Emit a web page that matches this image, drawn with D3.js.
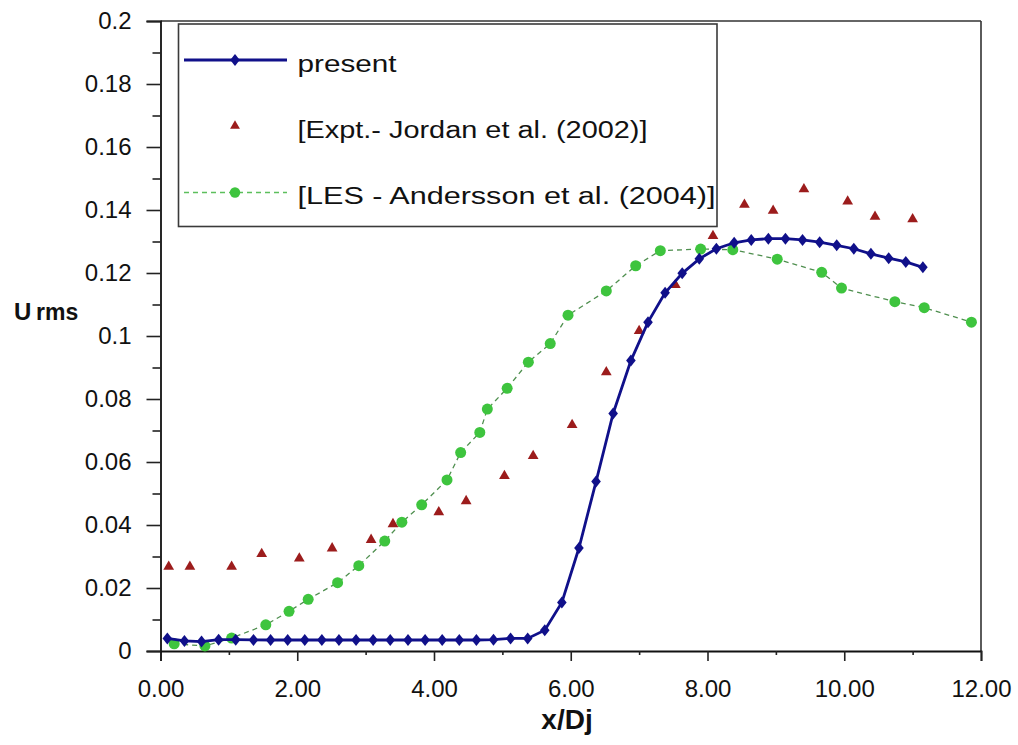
<!DOCTYPE html>
<html>
<head>
<meta charset="utf-8">
<script src="https://cdn.jsdelivr.net/npm/d3@7"></script>
<style>
  html, body { margin: 0; padding: 0; background: #ffffff; }
  svg { display: block; }
  text { font-family: "Liberation Sans", Arial, sans-serif; fill: #111; }
</style>
</head>
<body>
<svg id="chart" width="1018" height="745"></svg>
<script>
// ---------------- data ----------------
const presentX = [0.10, 0.35, 0.60, 0.85, 1.10, 1.36, 1.61, 1.86, 2.11, 2.36, 2.61, 2.86, 3.11, 3.36, 3.62,
  3.87, 4.12, 4.37, 4.62, 4.87, 5.12, 5.37, 5.62, 5.87, 6.12, 6.37, 6.62, 6.88, 7.13, 7.38,
  7.63, 7.88, 8.13, 8.39, 8.64, 8.89, 9.14, 9.39, 9.64, 9.89, 10.14, 10.39, 10.65, 10.90, 11.15];
const presentY = [0.0040, 0.0032, 0.0030, 0.0036, 0.0036, 0.0035, 0.0035, 0.0035, 0.0035, 0.0035, 0.0035, 0.0035,
  0.0035, 0.0035, 0.0035, 0.0035, 0.0035, 0.0035, 0.0035, 0.0036, 0.0040, 0.0040, 0.0066, 0.0154, 0.0327,
  0.0538, 0.0754, 0.0922, 0.1044, 0.1137, 0.1199, 0.1245, 0.1277, 0.1296, 0.1305, 0.1309, 0.1309, 0.1305,
  0.1298, 0.1288, 0.1277, 0.1261, 0.1247, 0.1235, 0.1218];

const jordanX = [0.12, 0.43, 1.04, 1.48, 2.03, 2.51, 3.08, 3.40, 4.07, 4.47, 5.03, 5.45, 6.02, 6.52, 7.00,
  7.53, 8.08, 8.54, 8.96, 9.41, 10.05, 10.45, 11.00];
const jordanY = [0.0268, 0.0268, 0.0268, 0.0308, 0.0294, 0.0326, 0.0353, 0.0403, 0.0441, 0.0476, 0.0556, 0.0619,
  0.0718, 0.0885, 0.1016, 0.1162, 0.1318, 0.1417, 0.1398, 0.1466, 0.1427, 0.1379, 0.1371];

const lesX = [0.20, 0.65, 1.04, 1.54, 1.88, 2.16, 2.59, 2.90, 3.28, 3.53, 3.82, 4.19, 4.39, 4.67, 4.78, 5.07,
  5.38, 5.70, 5.96, 6.52, 6.95, 7.31, 7.90, 8.37, 9.02, 9.67, 9.96, 10.74, 11.17, 11.86];
const lesY = [0.0023, 0.0016, 0.0041, 0.0083, 0.0126, 0.0164, 0.0217, 0.0271, 0.0349, 0.0409, 0.0464, 0.0543,
  0.0630, 0.0694, 0.0768, 0.0834, 0.0917, 0.0976, 0.1066, 0.1143, 0.1223, 0.1271, 0.1276, 0.1274, 0.1244,
  0.1202, 0.1152, 0.1109, 0.1090, 0.1044];

const xTickValues = [0, 2, 4, 6, 8, 10, 12];
const xTickLabels = ["0.00", "2.00", "4.00", "6.00", "8.00", "10.00", "12.00"];
const xMinorValues = [1, 3, 5, 7, 9, 11];
const yTickValues = [0, 0.02, 0.04, 0.06, 0.08, 0.1, 0.12, 0.14, 0.16, 0.18, 0.2];
const yTickLabels = ["0", "0.02", "0.04", "0.06", "0.08", "0.1", "0.12", "0.14", "0.16", "0.18", "0.2"];
const yMinorValues = [0.01, 0.03, 0.05, 0.07, 0.09, 0.11, 0.13, 0.15, 0.17, 0.19];

const seriesNames = ["present", "[Expt.- Jordan et al. (2002)]", "[LES - Andersson et al. (2004)]"];

// ---------------- layout ----------------
const svg = d3.select("#chart");
const L = 160.5, R = 981, T = 21, B = 651;
const x = d3.scaleLinear().domain([0, 12]).range([L, R]);
const y = d3.scaleLinear().domain([0, 0.2]).range([B, T]);

const BLUE = "#10108a", RED = "#9c1c1c", GREEN = "#3ec43e", GREENLINE = "#4f8f4f";

// frame (top & right)
svg.append("line").attr("x1", L).attr("x2", R).attr("y1", T).attr("y2", T)
  .attr("stroke", "#333").attr("stroke-width", 1.6);
svg.append("line").attr("x1", R).attr("x2", R).attr("y1", T).attr("y2", B)
  .attr("stroke", "#333").attr("stroke-width", 1.6);

// axes
const fmtX = (d) => xTickLabels[xTickValues.indexOf(d)];
const fmtY = (d) => yTickLabels[yTickValues.indexOf(d)];

const gx = svg.append("g").attr("transform", `translate(0,${B})`)
  .call(d3.axisBottom(x).tickValues(xTickValues).tickFormat(fmtX).tickSize(10).tickPadding(19));
const gxm = svg.append("g").attr("transform", `translate(0,${B})`)
  .call(d3.axisBottom(x).tickValues(xMinorValues).tickFormat("").tickSize(4));
const gy = svg.append("g").attr("transform", `translate(${L},0)`)
  .call(d3.axisLeft(y).tickValues(yTickValues).tickFormat(fmtY).tickSize(14).tickPadding(15));
const gym = svg.append("g").attr("transform", `translate(${L},0)`)
  .call(d3.axisLeft(y).tickValues(yMinorValues).tickFormat("").tickSize(8));

[gx, gxm, gy, gym].forEach(g => {
  g.select(".domain").attr("stroke", "#111").attr("stroke-width", 1.8);
  g.selectAll(".tick line").attr("stroke", "#222").attr("stroke-width", 1.6);
  g.selectAll(".tick text").attr("font-size", 24).attr("fill", "#111")
    .attr("font-family", "'Liberation Sans', Arial, sans-serif");
});
gxm.select(".domain").remove();
gym.select(".domain").remove();

// axis titles
const yt = svg.append("text").attr("y", 320).attr("font-weight", "bold");
yt.append("tspan").attr("x", 14).attr("font-size", 24).text("U");
yt.append("tspan").attr("x", 36).attr("font-size", 23).text("rms");
svg.append("text").attr("x", 567).attr("y", 729).attr("text-anchor", "middle")
  .attr("font-weight", "bold").attr("font-size", 28).text("x/Dj");

// ---------------- series ----------------
const present = presentX.map((v, i) => ({ x: v, y: presentY[i] }));
const jordan = jordanX.map((v, i) => ({ x: v, y: jordanY[i] }));
const les = lesX.map((v, i) => ({ x: v, y: lesY[i] }));

const line = d3.line().x(d => x(d.x)).y(d => y(d.y));
const diamond = "M0,-6L4.8,0L0,6L-4.8,0Z";
const tri = d3.symbol(d3.symbolTriangle, 50)();

// LES dashed line + circles
svg.append("path").datum(les).attr("d", line).attr("fill", "none")
  .attr("stroke", GREENLINE).attr("stroke-width", 1.3).attr("stroke-dasharray", "5,4");
svg.append("g").selectAll("circle").data(les).join("circle")
  .attr("cx", d => x(d.x)).attr("cy", d => y(d.y)).attr("r", 5.5).attr("fill", GREEN);

// Jordan triangles
svg.append("g").selectAll("path").data(jordan).join("path")
  .attr("d", tri).attr("transform", d => `translate(${x(d.x)},${y(d.y)})`).attr("fill", RED);

// present line + diamonds
svg.append("path").datum(present).attr("d", line).attr("fill", "none")
  .attr("stroke", BLUE).attr("stroke-width", 2.8);
svg.append("g").selectAll("path").data(present).join("path")
  .attr("d", diamond).attr("transform", d => `translate(${x(d.x)},${y(d.y)})`).attr("fill", BLUE);

// ---------------- legend ----------------
const lg = svg.append("g");
lg.append("rect").attr("x", 178.5).attr("y", 24).attr("width", 538.5).attr("height", 202.5)
  .attr("fill", "#fff").attr("stroke", "#3a3a3a").attr("stroke-width", 1.6);
const rows = [60, 126, 192.5];
const textLens = [99, 350, 418];
// row 1
lg.append("line").attr("x1", 184).attr("x2", 287).attr("y1", rows[0]).attr("y2", rows[0])
  .attr("stroke", BLUE).attr("stroke-width", 2.8);
lg.append("path").attr("d", diamond).attr("transform", `translate(235,${rows[0]})`).attr("fill", BLUE);
// row 2
lg.append("path").attr("d", d3.symbol(d3.symbolTriangle, 42)()).attr("transform", `translate(235,${rows[1]})`).attr("fill", RED);
// row 3
lg.append("line").attr("x1", 184).attr("x2", 287).attr("y1", rows[2]).attr("y2", rows[2])
  .attr("stroke", "#5cbf5c").attr("stroke-width", 1.3).attr("stroke-dasharray", "5,4");
lg.append("circle").attr("cx", 235).attr("cy", rows[2]).attr("r", 5.2).attr("fill", GREEN);

seriesNames.forEach((name, i) => {
  lg.append("text").attr("x", 297.5).attr("y", rows[i] + 11.5).attr("font-size", 23)
    .attr("textLength", textLens[i]).attr("lengthAdjust", "spacingAndGlyphs").text(name);
});
</script>
</body>
</html>
